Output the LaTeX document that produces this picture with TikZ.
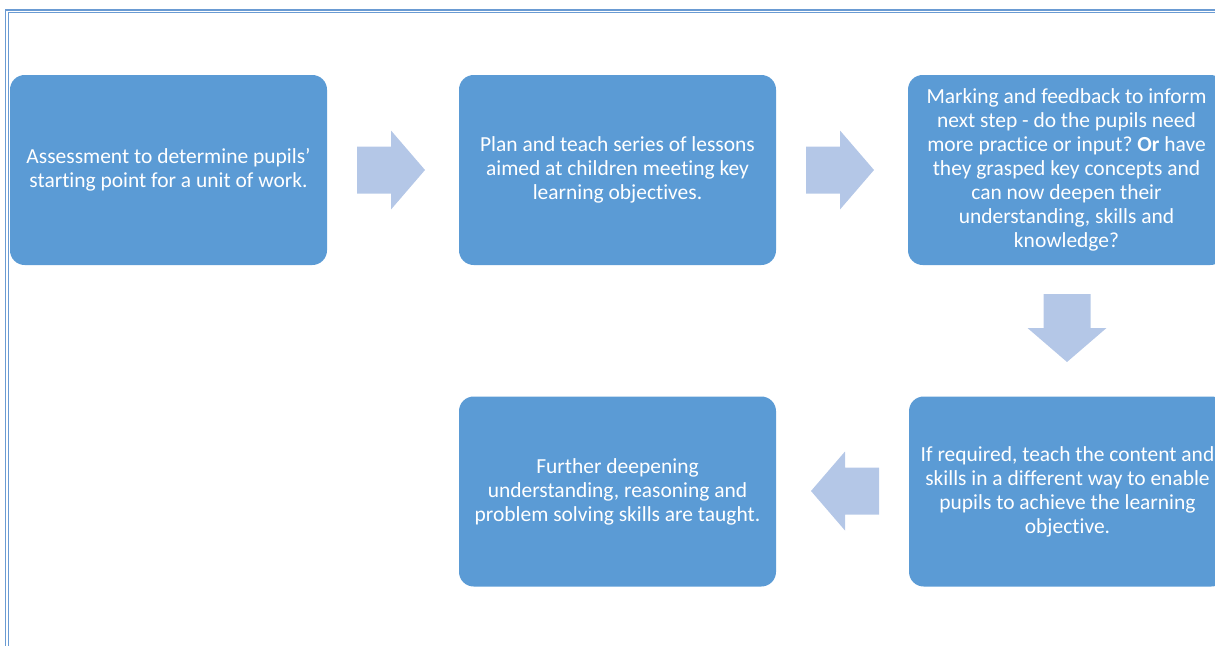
\documentclass[tikz,border=0pt]{standalone}
\usepackage{fontspec}
\setmainfont{Carlito}[RawFeature=-liga]
\definecolor{boxblue}{HTML}{5B9BD5}
\definecolor{arrowblue}{HTML}{B4C7E7}
\definecolor{frameblue}{HTML}{6A9BD3}
\tikzset{
    stage/.style={rectangle,rounded corners=11pt,fill=boxblue,draw=none,text=white,
        minimum width=237.75pt,minimum height=142.5pt,align=center,
        font=\fontsize{16.1}{18}\selectfont},
    frame/.style={draw=frameblue,line width=0.8pt},
    blockarrow/.pic={
        \fill[arrowblue] (-34,-23.5) -- (0,-23.5) -- (0,-39.5) -- (34,0)
            -- (0,39.5) -- (0,23.5) -- (-34,23.5) -- cycle;
    },
    }
\frenchspacing

\begin{document}
\begin{tikzpicture}[x=0.75pt,y=-0.75pt]
    \useasboundingbox (0,0) rectangle (1215,646);
    \clip (0,0) rectangle (1215,646);

    % page frame, double rule
    \draw[frame] (5.5,10) rectangle (1240,670);
    \draw[frame] (8.5,12.8) rectangle (1237,667);

    % the five stages
    \node[stage] (assess) at (168.5,170) {Assessment to determine pupils’\\starting point for a unit of work.};
    \node[stage] (plan) at (617.5,170) {Plan and teach series of lessons\\aimed at children meeting key\\learning objectives.};
    \node[stage] (mark) at (1066.5,170) {Marking and feedback to inform\\next step - do the pupils need\\more practice or input? \textbf{Or} have\\they grasped key concepts and\\can now deepen their\\understanding, skills and\\knowledge?};
    \node[stage] (deepen) at (617.5,491.5) {Further deepening\\understanding, reasoning and\\problem solving skills are taught.};
    \node[stage] (reteach) at (1067.5,491.5) {If required, teach the content and\\skills in a different way to enable\\pupils to achieve the learning\\objective.};

    % block arrows between the stages
    \pic at (391,170) {blockarrow};
    \pic at (840,170) {blockarrow};
    \pic[rotate=-90] at (1067,328) {blockarrow};
    \pic[rotate=180] at (845,491) {blockarrow};
\end{tikzpicture}
\end{document}
